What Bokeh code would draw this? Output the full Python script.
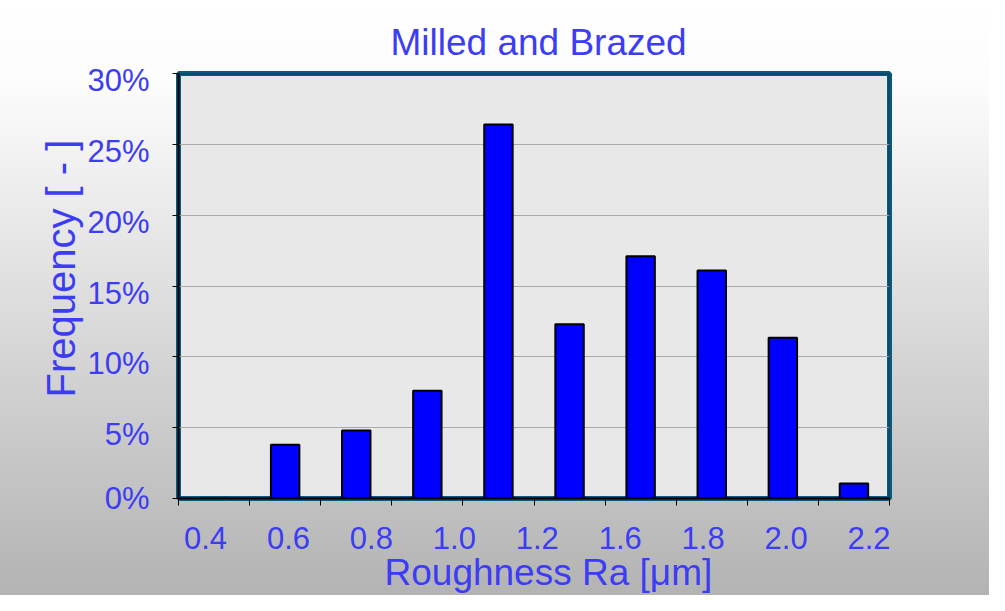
from bokeh.plotting import figure
from bokeh.models import (Range1d, FixedTicker, BoxAnnotation, ColumnDataSource, Title,
                          CustomJSTickFormatter, LinearAxis)
from bokeh.embed import file_html
from bokeh.resources import INLINE

# ---------------- data ----------------
title_text = "Milled and Brazed"
x_title = "Roughness Ra [μm]"
y_title = "Frequency [ - ]"
frequency = [0.0, 3.8, 4.8, 7.6, 26.4, 12.3, 17.1, 16.1, 11.35, 1.06]   # percent per bin
x_tick_labels = ["0.4", "0.6", "0.8", "1.0", "1.2", "1.6", "1.8", "2.0", "2.2"]
y_ticks = [0, 5, 10, 15, 20, 25, 30]

# ---------------- style ----------------
TEXT = "#3c3cf5"
FONT = "Liberation Sans"

n = len(frequency)
centers = [i + 0.5 for i in range(n)]
source = ColumnDataSource(data=dict(x=centers, top=frequency))

# tick-label slots (the labels are spread a bit wider than the bins in the original)
label_pos = [round(0.38 + i * 1.1665, 4) for i in range(len(x_tick_labels))]
# y tick labels sit slightly below their ticks in the original (the 0% one stays on its tick)
y_lbl_shift = 0.5
y_lbl_pos = [t - y_lbl_shift if t > 0 else t for t in y_ticks]

p = figure(width=989, height=595, output_backend="svg", toolbar_location=None,
           x_range=Range1d(0, n), y_range=Range1d(0, 30),
           min_border_left=178, min_border_right=100, min_border_top=73, min_border_bottom=97)

p.background_fill_color = "#e8e8e8"
p.border_fill_color = None
p.styles = {"background": "linear-gradient(to bottom, #ffffff 0%, #fcfcfc 14%, #b3b3b3 100%)"}

p.outline_line_color = "#0b5a7e"
p.outline_line_width = 5
p.add_layout(BoxAnnotation(fill_color=None, line_color="black", line_width=2))

# bars
p.vbar(x="x", top="top", bottom=0, width=0.4, source=source,
       fill_color="#0000ff", line_color="black", line_width=2)

# grid
p.xgrid.grid_line_color = None
p.ygrid.ticker = FixedTicker(ticks=y_ticks)
p.ygrid.grid_line_color = "#a9a9a9"
p.ygrid.grid_line_width = 1

# x axis: ticks at bin edges (minor), labels at label slots
xa = p.xaxis[0]
xa.ticker = FixedTicker(ticks=label_pos, minor_ticks=list(range(n + 1)))
xa.formatter = CustomJSTickFormatter(args=dict(pos=label_pos, labels=x_tick_labels), code="""
    for (let i = 0; i < pos.length; i++) { if (Math.abs(pos[i] - tick) < 1e-6) return labels[i]; }
    return "";
""")
xa.major_tick_line_color = None
xa.major_tick_out = 0
xa.major_tick_in = 0
xa.minor_tick_line_color = "black"
xa.minor_tick_out = 7
xa.minor_tick_in = 0
xa.axis_line_color = "black"
xa.axis_line_width = 2
xa.major_label_standoff = 21
xa.major_label_text_font = FONT
xa.major_label_text_font_size = "31px"
xa.major_label_text_color = TEXT

# y axis: tick marks only
ya = p.yaxis[0]
ya.ticker = FixedTicker(ticks=y_ticks)
ya.formatter = CustomJSTickFormatter(code="return '';")
ya.major_tick_out = 6
ya.major_tick_in = 0
ya.major_tick_line_color = "black"
ya.minor_tick_line_color = None
ya.axis_line_color = "black"
ya.axis_line_width = 2
ya.major_label_standoff = 0

# y axis labels (second axis, labels nudged a little below the ticks)
yl = LinearAxis(ticker=FixedTicker(ticks=y_lbl_pos),
                formatter=CustomJSTickFormatter(code="return Math.ceil(tick) + '%';"))
yl.axis_line_color = None
yl.major_tick_line_color = None
yl.minor_tick_line_color = None
yl.major_tick_out = 0
yl.major_tick_in = 0
yl.major_label_standoff = 23
yl.major_label_text_font = FONT
yl.major_label_text_font_size = "31px"
yl.major_label_text_color = TEXT
p.add_layout(yl, "left")

# title
p.title.text = title_text
p.title.align = "left"
p.title.offset = 212
p.title.standoff = 21
p.title.text_font = FONT
p.title.text_font_size = "37px"
p.title.text_font_style = "normal"
p.title.text_color = TEXT

# axis titles
p.add_layout(Title(text=x_title, align="left", offset=206, standoff=0, vertical_align="top",
                   text_font=FONT, text_font_size="37px", text_font_style="normal",
                   text_color=TEXT), "below")
p.add_layout(Title(text=y_title, align="left", offset=101, standoff=4, vertical_align="bottom",
                   text_font=FONT, text_font_size="40px", text_font_style="normal",
                   text_color=TEXT), "left")

open("out.html", "w").write(file_html(p, INLINE))
